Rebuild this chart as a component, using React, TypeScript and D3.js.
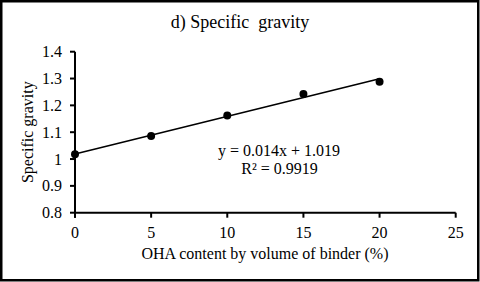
import React from "react";
import * as d3 from "d3";

const xValues = [0, 5, 10, 15, 20];
const yValues = [1.018, 1.086, 1.162, 1.242, 1.288];
const xTicks = [0, 5, 10, 15, 20, 25];
const yTicks = [0.8, 0.9, 1.0, 1.1, 1.2, 1.3, 1.4];
const slope = 0.014;
const intercept = 1.019;
const trendRange = [0, 20];
const title = "d) Specific\u00A0 gravity";
const xLabel = "OHA content by volume of binder (%)";
const yLabel = "Specific gravity";
const eqText = "y = 0.014x + 1.019";
const r2Text = "R\u00B2 = 0.9919";

const W = 480;
const H = 282;
const font = "'Liberation Serif', 'Times New Roman', serif";

export default function App() {
  const x = d3.scaleLinear().domain([0, 25]).range([75, 455.7]);
  const y = d3.scaleLinear().domain([0.8, 1.4]).range([212.7, 51.7]);
  const trend = d3
    .line<number>()
    .x((d) => x(d))
    .y((d) => y(slope * d + intercept));
  const fmtY = (v: number) => (Math.abs(v - 1) < 1e-9 ? "1" : d3.format(".1f")(v));

  return (
    <svg
      width={W}
      height={H}
      style={{ position: "absolute", left: 0, top: 0, background: "#fff" }}
      fontFamily={font}
    >
      <rect x={0} y={0} width={W} height={H} fill="#fff" />
      <rect x={1.25} y={1.25} width={477} height={279} fill="none" stroke="#000" strokeWidth={2.5} />
      <text x={240} y={28} textAnchor="middle" fontSize={18} fill="#000">
        {title}
      </text>
      {/* y axis */}
      <line x1={x(0)} x2={x(0)} y1={y(1.4)} y2={y(0.8) + 5} stroke="#000" strokeWidth={2} />
      {yTicks.map((t) => (
        <g key={"y" + t}>
          <line x1={x(0) - 5} x2={x(0)} y1={y(t)} y2={y(t)} stroke="#000" strokeWidth={2} />
          <text x={62} y={y(t)} dy="0.35em" textAnchor="end" fontSize={16} fill="#000">
            {fmtY(t)}
          </text>
        </g>
      ))}
      {/* x axis */}
      <line x1={x(0)} x2={x(25)} y1={y(0.8)} y2={y(0.8)} stroke="#000" strokeWidth={2} />
      {xTicks.map((t) => (
        <g key={"x" + t}>
          <line x1={x(t)} x2={x(t)} y1={y(0.8)} y2={y(0.8) + 5} stroke="#000" strokeWidth={2} />
          <text x={x(t)} y={238} textAnchor="middle" fontSize={16} fill="#000">
            {t}
          </text>
        </g>
      ))}
      <text x={265} y={259} textAnchor="middle" fontSize={16} fill="#000">
        {xLabel}
      </text>
      <text
        transform={`translate(33,${(y(0.8) + y(1.4)) / 2}) rotate(-90)`}
        textAnchor="middle"
        fontSize={16}
        fill="#000"
      >
        {yLabel}
      </text>
      <path d={trend(trendRange) || ""} fill="none" stroke="#000" strokeWidth={1.6} />
      {xValues.map((v, i) => (
        <circle key={"p" + i} cx={x(v)} cy={y(yValues[i])} r={4} fill="#000" />
      ))}
      <text x={279} y={156} textAnchor="middle" fontSize={16} fill="#000">
        {eqText}
      </text>
      <text x={279.5} y={174} textAnchor="middle" fontSize={16} fill="#000">
        {r2Text}
      </text>
    </svg>
  );
}
